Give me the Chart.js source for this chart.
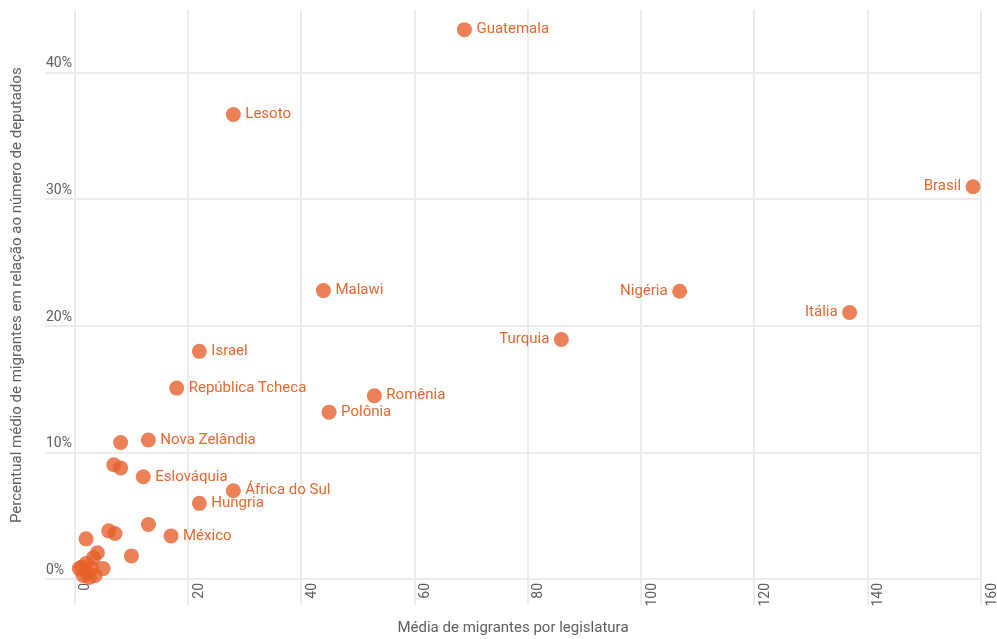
<!DOCTYPE html>
<html>
<head>
<meta charset="utf-8">
<script src="https://cdn.jsdelivr.net/npm/chart.js@4.4.1/dist/chart.umd.min.js"></script>
<style>
  html, body { margin: 0; padding: 0; background: #fff; }
  #wrap { width: 997px; height: 639px; }
</style>
</head>
<body>
<div id="wrap"><canvas id="grafico"></canvas></div>
<script>
// paises (vazio = ponto sem rotulo)
var paises = [
    'Guatemala', 'Lesoto', 'Brasil', 'Malawi', 'Nigéria', 'Itália', 'Turquia',
    'Israel', 'República Tcheca', 'Romênia', 'Polônia', 'Nova Zelândia', '',
    '', '', 'Eslováquia', 'África do Sul', 'Hungria', '', 'México',
    '', '', '', '', '',
    '', '', '', '', '', '', '', '', '', ''
];
// media de migrantes por legislatura
var mediaMigrantes = [
    68.8, 28.0, 158.6, 43.9, 106.8, 136.8, 85.9,
    22.0, 18.0, 52.9, 44.9, 13.0, 8.1,
    6.9, 8.1, 12.1, 28.0, 22.0, 13.0, 17.0,
    6.0, 7.1, 2.0, 10.0, 4.0,
    0.8, 1.5, 2.0, 2.2, 3.0, 3.3, 3.6, 5.0, 2.6, 1.2
];
// percentual medio de migrantes
var percentMigrantes = [
    43.4, 36.7, 31.0, 22.8, 22.75, 21.07, 18.94,
    18.0, 15.1, 14.5, 13.2, 11.0, 10.8,
    9.05, 8.8, 8.1, 7.0, 6.0, 4.33, 3.43,
    3.83, 3.62, 3.2, 1.85, 2.1,
    0.85, 0.3, 1.25, 0.5, 0.9, 1.7, 0.3, 0.85, 0.15, 0.95
];
// rotulos que ficam a esquerda do ponto
var rotuloEsquerda = ['Brasil', 'Nigéria', 'Itália', 'Turquia'];
// marcas dos eixos
var ticksX = [0, 20, 40, 60, 80, 100, 120, 140, 160];
var ticksY = [0, 10, 20, 30, 40];

var pontos = [];
for (var i = 0; i < paises.length; i++) {
    pontos.push({ x: mediaMigrantes[i], y: percentMigrantes[i] });
}

var laranja = 'rgba(231, 96, 44, 0.8)';
var cinzaTexto = '#5e5e5e';
var corGrade = '#ececec';

Chart.defaults.font.family = 'Roboto, "Noto Sans", sans-serif';

var rotulosPlugin = {
    id: 'rotulos',
    afterDatasetsDraw: function (chart) {
        var ctx = chart.ctx;
        var meta = chart.getDatasetMeta(0);
        ctx.save();
        ctx.font = '15px Roboto';
        ctx.fillStyle = '#e8662f';
        ctx.textBaseline = 'middle';
        meta.data.forEach(function (p, i) {
            var nome = paises[i];
            if (!nome) return;
            if (rotuloEsquerda.indexOf(nome) >= 0) {
                ctx.textAlign = 'right';
                ctx.fillText(nome, p.x - 12, p.y);
            } else {
                ctx.textAlign = 'left';
                ctx.fillText(nome, p.x + 12, p.y);
            }
        });
        ctx.restore();
    }
};

new Chart(document.getElementById('grafico'), {
    type: 'scatter',
    data: {
        datasets: [{
            data: pontos,
            backgroundColor: laranja,
            borderWidth: 0,
            pointRadius: 7.5,
            pointHoverRadius: 7.5,
            clip: false
        }]
    },
    options: {
        responsive: true,
        maintainAspectRatio: false,
        animation: false,
        layout: { padding: { top: 8, right: 16, bottom: 0, left: 0 } },
        plugins: {
            legend: { display: false },
            tooltip: { enabled: false }
        },
        scales: {
            x: {
                type: 'linear',
                min: -5.25,
                max: 160,
                afterBuildTicks: function (scale) {
                    scale.ticks = ticksX.map(function (v) { return { value: v }; });
                },
                afterFit: function (scale) { scale.height = 58; },
                border: { display: false },
                grid: { color: corGrade, lineWidth: 2, tickLength: 24, tickColor: corGrade, tickWidth: 2 },
                ticks: {
                    minRotation: 90,
                    maxRotation: 90,
                    padding: -22,
                    labelOffset: 11,
                    color: cinzaTexto,
                    font: { size: 14 }
                },
                title: {
                    display: true,
                    text: 'Média de migrantes por legislatura',
                    color: cinzaTexto,
                    font: { size: 15 },
                    padding: { top: 0, bottom: 2 }
                }
            },
            y: {
                type: 'linear',
                min: -0.13,
                max: 45,
                afterBuildTicks: function (scale) {
                    scale.ticks = ticksY.map(function (v) { return { value: v }; });
                },
                afterFit: function (scale) { scale.width = 45; },
                border: { display: false },
                grid: { color: corGrade, lineWidth: 2, drawTicks: false },
                ticks: {
                    mirror: true,
                    padding: 1,
                    labelOffset: -9,
                    color: cinzaTexto,
                    font: { size: 14 },
                    callback: function (v) { return v + '%'; }
                },
                title: {
                    display: true,
                    text: 'Percentual médio de migrantes em relação ao número de deputados',
                    color: cinzaTexto,
                    font: { size: 15 },
                    padding: { top: 8, bottom: 0 }
                }
            }
        }
    },
    plugins: [rotulosPlugin]
});
</script>
</body>
</html>
